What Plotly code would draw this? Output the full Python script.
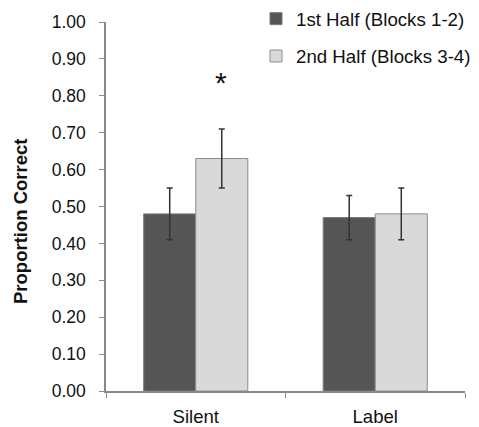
import plotly.graph_objects as go

categories = ["Silent", "Label"]
first_half = [0.48, 0.47]
first_err = [0.07, 0.06]
second_half = [0.63, 0.48]
second_err = [0.08, 0.07]
series_names = ["1st Half (Blocks 1-2)", "2nd Half (Blocks 3-4)"]
y_ticks = [0.0, 0.1, 0.2, 0.3, 0.4, 0.5, 0.6, 0.7, 0.8, 0.9, 1.0]

FONT = "Liberation Sans, Arial, sans-serif"

# page body has an 8px margin, so the figure is laid out 8px up/left
W, H = 471, 419
L, R, T, B = 98, 14, 14, 36
PW, PH = W - L - R, H - T - B

fig = go.Figure()
fig.add_trace(go.Bar(
    x=categories, y=first_half, name=series_names[0], legendgroup="a",
    marker=dict(color="#555555", line=dict(color="#7a7a7a", width=1)),
    error_y=dict(type="data", array=first_err, visible=True, color="#333333", thickness=1.5, width=3),
))
fig.add_trace(go.Bar(
    x=categories, y=second_half, name=series_names[1], legendgroup="b",
    marker=dict(color="#d9d9d9", line=dict(color="#8c8c8c", width=1)),
    error_y=dict(type="data", array=second_err, visible=True, color="#333333", thickness=1.5, width=3),
))

fig.add_annotation(x="Silent", y=0.835, xref="x", yref="y", text="*", showarrow=False,
                   xshift=25, font=dict(family=FONT, size=30, color="#111111"))
fig.add_annotation(x=(12 - L) / PW, y=(H - B - 214) / PH, xref="paper", yref="paper",
                   text="<b>Proportion Correct</b>", textangle=-90, showarrow=False,
                   xanchor="center", yanchor="middle",
                   font=dict(family=FONT, size=18.5, color="#111111"))

fig.update_layout(
    width=W, height=H,
    margin=dict(l=L, r=R, t=T, b=B, autoexpand=False),
    paper_bgcolor="white", plot_bgcolor="white",
    barmode="group", bargap=0.42, bargroupgap=0,
    font=dict(family=FONT, size=17.5, color="#111111"),
    showlegend=True,
    legend=dict(x=1 + (R - 3) / PW, xanchor="right", y=1 + (T + 8) / PH, yanchor="top",
                traceorder="grouped", tracegroupgap=10, bgcolor="rgba(0,0,0,0)",
                font=dict(family=FONT, size=18.7, color="#111111")),
    xaxis=dict(showline=True, linecolor="#888888", linewidth=1.5, ticks="outside",
               tickcolor="#888888", ticklen=5, tickson="boundaries",
               ticklabelstandoff=8, showgrid=False, zeroline=False,
               tickfont=dict(size=18.6)),
    yaxis=dict(range=[0, 1], tickvals=y_ticks, tickformat=".2f", showline=True,
               linecolor="#888888", linewidth=1.5, ticks="outside", tickcolor="#888888",
               ticklen=5, ticklabelstandoff=10, showgrid=False, zeroline=False),
)

fig.write_html("out.html")
